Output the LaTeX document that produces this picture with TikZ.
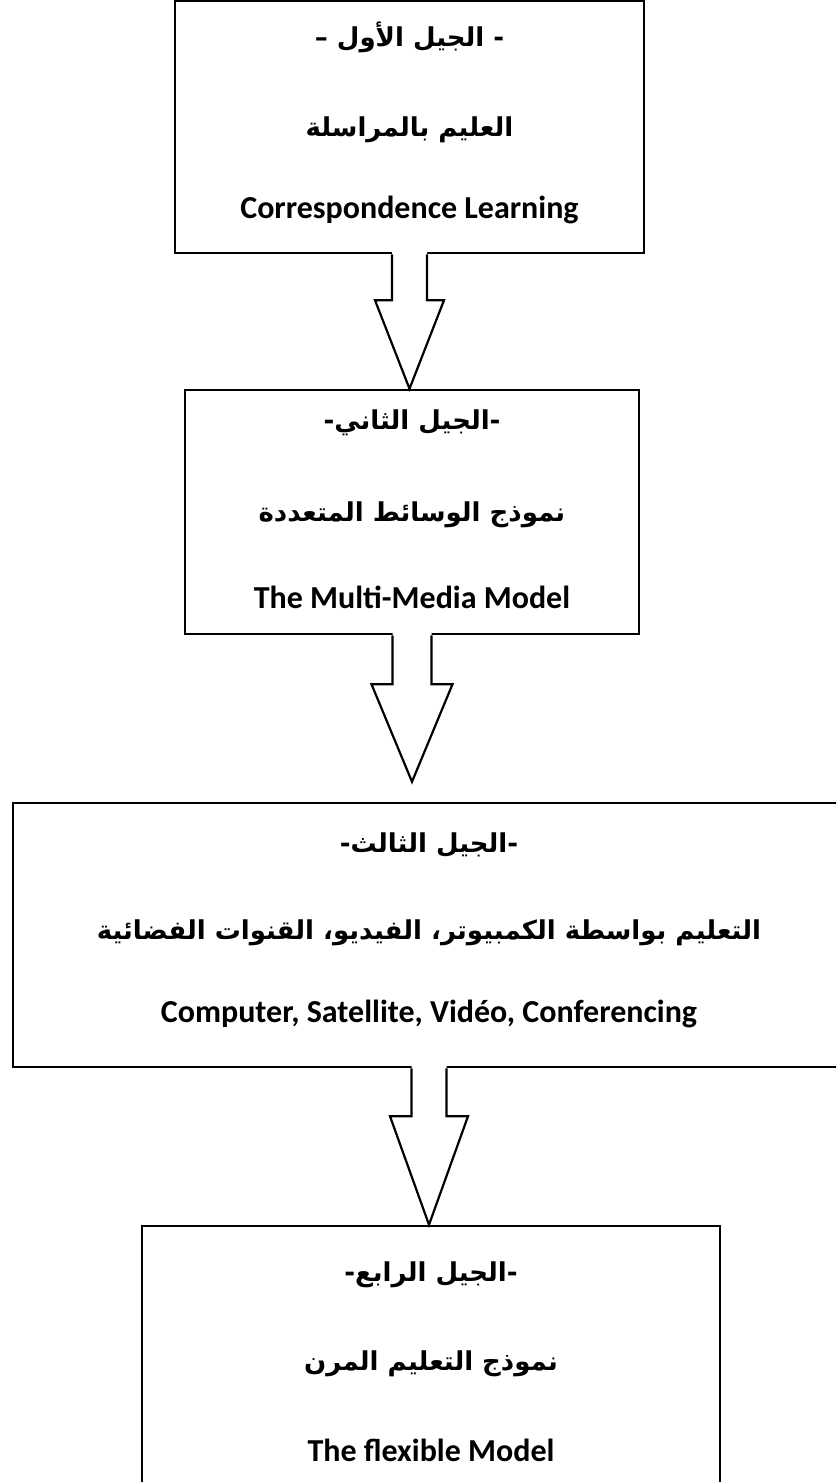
\documentclass[tikz,border=0pt]{standalone}
\usepackage{fontspec}
\setmainfont{Carlito}
\newfontfamily\arabicfont[Script=Arabic]{DejaVu Sans}
\TeXXeTstate=1
\usetikzlibrary{positioning,calc}

\tikzset{
  genbox/.style={draw, line width=2.5pt, rectangle, inner sep=0pt},
  artext/.style={font=\arabicfont\bfseries\fontsize{26}{30}\selectfont},
  entext/.style={font=\bfseries\fontsize{32}{36}\selectfont},
  genarrow/.style={line width=2.2pt, line join=miter},
}

\begin{document}
\begin{tikzpicture}[x=1pt,y=1pt]
    \useasboundingbox (0,0) rectangle (836,-1482);
    \clip (0,0) rectangle (836,-1482);

      % Generations
      \node[genbox, minimum width=469pt, minimum height=252pt] (g1) at (409.5,-127) {};
      \node[genbox, minimum width=454pt, minimum height=244pt] (g2) at (412,-512) {};
      \node[genbox, minimum width=832pt, minimum height=264pt] (g3) at (429,-935) {};
      \node[genbox, minimum width=578pt, minimum height=284pt] (g4) at (431,-1368) {};

      % Texts
      \node[artext] (g1a) at (409.5,-37) {\beginR - الجيل الأول –\endR};
      \node[artext] (g1b) at (409.5,-130) {\beginR العليم بالمراسلة\endR};
      \node[entext] (g1c) at (409.5,-210) {Correspondence Learning};

      \node[artext] (g2a) at (412,-423) {\beginR -الجيل الثاني-\endR};
      \node[artext] (g2b) at (412,-515) {\beginR نموذج الوسائط المتعددة\endR};
      \node[entext] (g2c) at (412,-597) {The Multi-Media Model};

      \node[artext] (g3a) at (429,-845) {\beginR -الجيل الثالث-\endR};
      \node[artext] (g3b) at (429,-933) {\beginR التعليم بواسطة الكمبيوتر، الفيديو، القنوات الفضائية\endR};
      \node[entext] (g3c) at (429,-1014) {Computer, Satellite, Vidéo, Conferencing};

      \node[artext] (g4a) at (431,-1275) {\beginR -الجيل الرابع-\endR};
      \node[artext] (g4b) at (431,-1364) {\beginR نموذج التعليم المرن\endR};
      \node[entext] (g4c) at (431,-1450) {The flexible Model};

      % Arrows
      \foreach \a/\b/\s/\h/\l/\gap in {g1/g2/17.5/34.5/46/0, g2/g3/19.5/40.5/49/20, g3/g4/17.5/39/48/0}{
        \fill[white] ($(\a.south)+(-\s,4)$) -- ($(\a.south)+(-\s,-\l)$) -- ($(\a.south)+(-\h,-\l)$)
          -- ($(\a.south |- \b.north)+(0,\gap)$) -- ($(\a.south)+(\h,-\l)$) -- ($(\a.south)+(\s,-\l)$)
          -- ($(\a.south)+(\s,4)$) -- cycle;
        \draw[genarrow] ($(\a.south)+(-\s,0)$) -- ($(\a.south)+(-\s,-\l)$) -- ($(\a.south)+(-\h,-\l)$)
          -- ($(\a.south |- \b.north)+(0,\gap)$) -- ($(\a.south)+(\h,-\l)$) -- ($(\a.south)+(\s,-\l)$)
          -- ($(\a.south)+(\s,0)$);
      }
  \end{tikzpicture}
\end{document}
